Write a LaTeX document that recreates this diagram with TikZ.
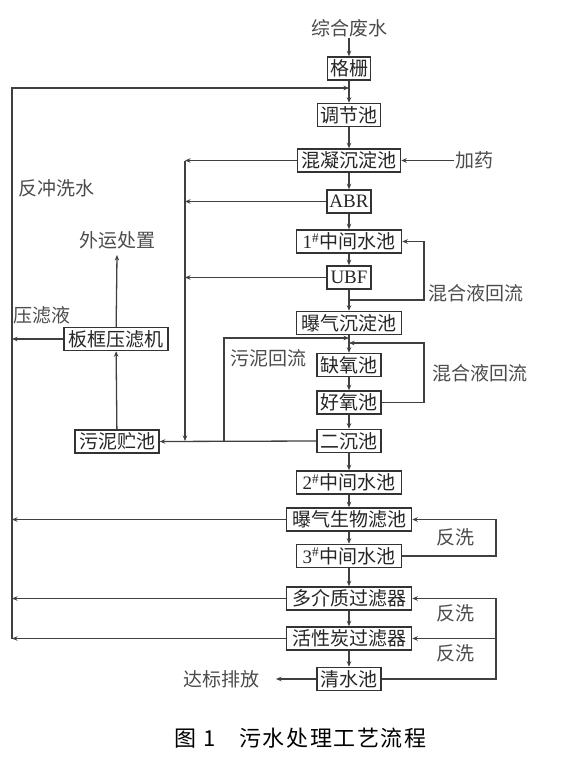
\documentclass[tikz,border=0pt]{standalone}
\usepackage{fontspec}
\setmainfont{Liberation Serif}
\newfontfamily\cjk{Noto Sans CJK SC}
\newfontfamily\cjkcap{Noto Sans CJK SC}[LetterSpace=7]
\usetikzlibrary{arrows.meta,calc}
\begin{document}
\begin{tikzpicture}[x=1pt,y=-1pt,
  box/.style={draw=black!80, line width=1.5pt, fill=white, minimum width=#1, minimum height=23pt,
    inner sep=0pt, font=\cjk\fontsize{19}{19}\selectfont, text=black!85},
  rmbox/.style={box=#1, font=\rmfamily\fontsize{19}{19}\selectfont},
  lab/.style={font=\cjk\fontsize{19}{19}\selectfont, text=black!70, inner sep=1pt},
  arr/.style={-{Stealth[length=5.5pt,width=4.5pt]}, line width=1.3pt, draw=black!75},
  ln/.style={line width=1.3pt, draw=black!75}]
\useasboundingbox (0,0) rectangle (585,766);
\fill[white] (0,0) rectangle (585,766);

% main column
\node[lab] (src) at (349,28) {综合废水};
\node[box=43pt] (gs) at (349,68.5) {格栅};
\node[box=63pt] (tj) at (349,115) {调节池};
\node[box=103pt] (hn) at (349,160.5) {混凝沉淀池};
\node[rmbox=44pt] (abr) at (349,201.5) {ABR};
\node[box=105pt] (z1) at (349,241.5) {{\rmfamily 1\textsuperscript{\#}}中间水池};
\node[rmbox=44pt] (ubf) at (349,277.5) {UBF};
\node[box=105pt] (bq) at (349,323) {曝气沉淀池};
\node[box=64pt] (qy) at (349,365) {缺氧池};
\node[box=64pt] (hy) at (349,402.5) {好氧池};
\node[box=64pt] (ec) at (349,441) {二沉池};
\node[box=105pt] (z2) at (349,482.5) {{\rmfamily 2\textsuperscript{\#}}中间水池};
\node[box=125pt] (sw) at (349,519.5) {曝气生物滤池};
\node[box=105pt] (z3) at (349,556) {{\rmfamily 3\textsuperscript{\#}}中间水池};
\node[box=125pt] (dj) at (349,598.5) {多介质过滤器};
\node[box=125pt] (hx) at (349,638.5) {活性炭过滤器};
\node[box=64pt] (qs) at (349,679) {清水池};
% sludge side
\node[box=104pt] (bk) at (116,339) {板框压滤机};
\node[box=84pt] (wn) at (117,441.5) {污泥贮池};

% labels
\node[lab] (jy) at (474,160.5) {加药};
\node[lab] (fc) at (56,188) {反冲洗水};
\node[lab] (wy) at (117,240) {外运处置};
\node[lab] (hl1) at (476,293) {混合液回流};
\node[lab] (ylz) at (42,315) {压滤液};
\node[lab] (wnhl) at (268,358) {污泥回流};
\node[lab] (hl2) at (480,373) {混合液回流};
\node[lab] (fx1) at (455,537) {反洗};
\node[lab] (fx2) at (455,613) {反洗};
\node[lab] (fx3) at (455,653) {反洗};
\node[lab] (db) at (221,679) {达标排放};

% coordinates
\coordinate (L1) at (12,88);
\coordinate (L4) at (12,638.5);
\coordinate (V) at (185,441);
\coordinate (S) at (224,441);
\coordinate (R1) at (349,338);
\coordinate (M1) at (349,300);
\coordinate (M2) at (424,300);
\coordinate (M3) at (424,402.5);
\coordinate (M4) at (349,343);
\coordinate (B1) at (496,556);
\coordinate (WY) at (117,255);
\coordinate (DB) at (276,679);

% main flow
\draw[arr] (src) -- (gs);
\foreach \a/\b in {gs/tj,tj/hn,hn/abr,abr/z1,z1/ubf,ubf/bq,bq/qy,qy/hy,hy/ec,ec/z2,z2/sw,sw/z3,z3/dj,dj/hx,hx/qs}
  \draw[arr] (\a) -- (\b);

% backwash return line on the left
\draw[arr] (L4) -- (L1) -- (L1 -| gs.south);
\draw[arr] (bk.west) -- (bk.west -| L1);
\draw[arr] (sw.west) -- (sw.west -| L1);
\draw[arr] (dj.west) -- (dj.west -| L1);
\draw[arr] (hx.west) -- (hx.west -| L1);

% dosing
\draw[arr] (jy.west) -- (jy.west -| hn.east);

% sludge collection
\draw[arr] (hn.west) -- (hn.west -| V);
\draw[arr] (abr.west) -- (abr.west -| V);
\draw[arr] (ubf.west) -- (ubf.west -| V);
\draw[arr] (hn.west -| V) -- (V);
\draw[arr] (ec.west) -- (wn.east);
\draw[arr] (S) -- (S |- R1) -- (R1);

% mixed liquor recirculation
\draw[arr] (M1) -- (M2) -- (M2 |- z1.east) -- (z1.east);
\draw[arr] (hy.east) -- (M3) -- (M3 |- M4) -- (M4);

% sludge treatment
\draw[arr] (wn) -- (bk);
\draw[arr] (bk) -- (WY);

% filter backwash
\draw[arr] (z3.east) -- (B1) -- (B1 |- sw.east) -- (sw.east);
\draw[arr] (qs.east) -- (qs.east -| B1) -- (B1 |- dj.east) -- (dj.east);
\draw[arr] (B1 |- hx.east) -- (hx.east);

% discharge
\draw[arr] (qs) -- (DB);

% caption
\node[anchor=west, inner sep=0pt, font=\cjkcap\fontsize{22}{22}\selectfont] (cap) at (174,738)
  {图\hspace{7pt}1\hspace{24pt}污水处理工艺流程};
\end{tikzpicture}
\end{document}
